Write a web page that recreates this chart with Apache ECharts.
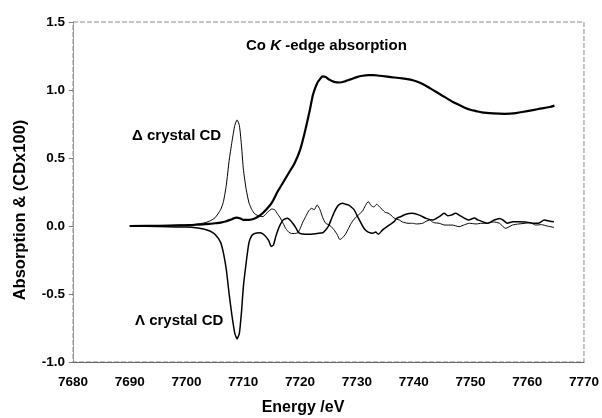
<!DOCTYPE html>
<html>
<head>
<meta charset="utf-8">
<script src="https://cdn.jsdelivr.net/npm/echarts@6/dist/echarts.min.js"></script>
<style>
html,body{margin:0;padding:0;background:#fff;}
#chart{width:602px;height:418px;}
</style>
</head>
<body>
<div id="chart"></div>
<script>
// X tick labels and Y tick labels
const xTicks = [7680, 7690, 7700, 7710, 7720, 7730, 7740, 7750, 7760, 7770];
const yTicks = [-1.0, -0.5, 0.0, 0.5, 1.0, 1.5];

// Co K-edge absorption (thick line)
const absE = [7690,7695,7700,7702,7704,7705,7706,7707,7708,7708.8,7709.5,7710,7711,7712,7713,7714,7715,7716,7717,7718,7719,7720,7721,7721.7,7722.3,7723,7723.5,7724,7724.5,7725,7726,7727,7728,7729,7730,7731,7732,7733,7734,7736,7738,7740,7741,7742,7743,7744,7745,7746,7747,7748,7749,7750,7751,7752,7754,7756,7757,7758,7760,7762,7764,7764.8];
const absV = [0,0.002,0.006,0.01,0.015,0.02,0.025,0.035,0.05,0.062,0.055,0.045,0.045,0.055,0.08,0.12,0.17,0.25,0.32,0.39,0.46,0.56,0.72,0.85,0.97,1.05,1.08,1.1,1.095,1.08,1.06,1.055,1.065,1.08,1.095,1.105,1.11,1.11,1.105,1.095,1.085,1.07,1.055,1.035,1.01,0.985,0.96,0.935,0.91,0.89,0.87,0.855,0.845,0.835,0.828,0.825,0.826,0.83,0.845,0.86,0.875,0.885];

// Delta crystal CD (x100)
const deltaE = [7690,7695,7700,7702,7703,7704,7705,7706,7706.5,7707,7707.5,7708,7708.5,7708.9,7709.3,7709.7,7710,7710.5,7711,7711.5,7712,7713,7713.5,7714,7714.5,7715,7715.5,7716,7716.5,7717,7717.5,7718,7718.5,7719,7719.6,7720,7720.5,7721,7721.5,7722,7722.5,7723,7723.5,7724,7724.5,7725,7725.5,7726,7726.5,7727,7727.5,7728,7728.5,7729,7729.5,7730,7730.5,7731,7731.5,7732,7732.5,7733,7733.5,7734,7734.5,7735,7735.5,7736,7736.5,7737,7737.5,7738,7739,7739.8,7740.5,7741.6,7742.2,7742.8,7743.5,7744.5,7745.5,7746.8,7748,7749,7749.8,7751,7752,7753,7754,7755.1,7756.2,7757.4,7758.5,7759.7,7760.5,7761.5,7762.5,7763.5,7764.7];
const deltaV = [0,0.003,0.008,0.015,0.022,0.035,0.06,0.12,0.18,0.3,0.48,0.62,0.74,0.78,0.74,0.58,0.42,0.27,0.17,0.12,0.09,0.07,0.07,0.09,0.11,0.125,0.12,0.09,0.06,0.02,-0.02,-0.045,-0.055,-0.055,-0.05,-0.02,0.03,0.07,0.11,0.13,0.12,0.155,0.12,0.06,0.02,0.01,-0.005,-0.03,-0.06,-0.1,-0.085,-0.06,-0.02,0.02,0.05,0.07,0.09,0.11,0.15,0.18,0.15,0.14,0.16,0.14,0.12,0.1,0.095,0.08,0.06,0.05,0.044,0.03,0.02,0.02,0.015,0.02,0.035,0.044,0.025,0.02,0.007,0.007,-0.005,0.01,0.02,0.015,0.02,0.02,0.03,0.02,-0.017,0.007,0.015,0.02,0.025,0.007,0.01,0.0,-0.01];

// Lambda crystal CD (x100)
const lambdaE = [7690,7695,7700,7702,7703,7704,7705,7706,7706.5,7707,7707.5,7708,7708.5,7708.9,7709.3,7709.7,7710,7710.5,7711,7711.5,7712,7712.9,7713.5,7714,7714.5,7714.9,7715.3,7715.7,7716.1,7716.5,7717,7717.8,7718.3,7718.7,7719.2,7719.6,7720,7721,7722,7723,7724,7724.5,7725,7725.5,7726,7726.5,7727,7727.5,7728,7728.5,7729,7729.5,7730,7730.5,7731,7731.5,7732,7732.8,7733.3,7733.8,7734.5,7735.7,7736.5,7737,7737.8,7738.5,7739.8,7741,7742.2,7743.4,7744.5,7745.4,7746,7746.6,7747.4,7748,7748.9,7749.7,7750.7,7751.3,7752.1,7753,7754.2,7755.1,7755.7,7756.5,7757.5,7758.6,7759.7,7760.9,7762,7763,7764,7764.7];
const lambdaV = [0,-0.003,-0.008,-0.015,-0.022,-0.035,-0.06,-0.12,-0.2,-0.32,-0.5,-0.66,-0.79,-0.83,-0.79,-0.62,-0.45,-0.27,-0.12,-0.07,-0.055,-0.05,-0.06,-0.08,-0.11,-0.15,-0.14,-0.08,-0.03,0.01,0.044,0.057,0.04,0.02,-0.01,-0.04,-0.055,-0.06,-0.06,-0.055,-0.05,-0.03,0.0,0.05,0.1,0.14,0.16,0.167,0.16,0.155,0.14,0.12,0.08,0.04,0.0,-0.03,-0.045,-0.054,-0.045,-0.06,-0.03,0.007,0.03,0.056,0.07,0.085,0.093,0.08,0.056,0.044,0.069,0.093,0.075,0.08,0.093,0.08,0.058,0.045,0.058,0.045,0.032,0.02,0.044,0.056,0.045,0.02,0.032,0.032,0.03,0.02,0.02,0.044,0.035,0.032];

const pairs = (xs, ys) => xs.map((x, i) => [x, ys[i]]);
const FONT = '"Liberation Sans", Arial, sans-serif';

const chart = echarts.init(document.getElementById('chart'), null, {renderer: 'canvas'});
chart.setOption({
  animation: false,
  backgroundColor: '#ffffff',
  grid: {
    left: 73, right: 17, top: 22, bottom: 56,
    show: true, borderColor: '#8a8a8a', borderWidth: 1, borderType: [5, 2]
  },
  xAxis: {
    type: 'value',
    min: xTicks[0], max: xTicks[xTicks.length - 1], interval: 10,
    axisLine: {show: true, onZero: false, lineStyle: {color: '#666', width: 1.2}},
    axisTick: {show: false},
    splitLine: {show: false},
    axisLabel: {
      color: '#000', fontFamily: FONT, fontWeight: 'bold', fontSize: 13.5, margin: 13,
      formatter: v => xTicks.includes(v) ? String(v) : ''
    }
  },
  yAxis: {
    type: 'value',
    min: yTicks[0], max: yTicks[yTicks.length - 1], interval: 0.5,
    axisLine: {show: true, onZero: false, lineStyle: {color: '#999', width: 1}},
    axisTick: {show: true, inside: false, length: 4, lineStyle: {color: '#777'}},
    splitLine: {show: false},
    axisLabel: {
      color: '#000', fontFamily: FONT, fontWeight: 'bold', fontSize: 13.5, margin: 8,
      formatter: v => v.toFixed(1)
    }
  },
  series: [
    {
      name: 'Co K-edge absorption', type: 'line', showSymbol: false, smooth: 0.3,
      data: pairs(absE, absV),
      lineStyle: {color: '#000', width: 2.2}, z: 3
    },
    {
      name: 'Δ crystal CD', type: 'line', showSymbol: false, smooth: 0.2,
      data: pairs(deltaE, deltaV),
      lineStyle: {color: '#000', width: 1}, z: 2
    },
    {
      name: 'Λ crystal CD', type: 'line', showSymbol: false, smooth: 0.2,
      data: pairs(lambdaE, lambdaV),
      lineStyle: {color: '#000', width: 1.5}, z: 2
    }
  ],
  graphic: [
    {
      type: 'text', left: 246, top: 38,
      style: {
        text: '{n|Co }{i|K}{n| -edge absorption}',
        rich: {
          n: {fontFamily: FONT, fontWeight: 'bold', fontSize: 15, fill: '#000'},
          i: {fontFamily: FONT, fontWeight: 'bold', fontStyle: 'italic', fontSize: 15, fill: '#000'}
        }
      }
    },
    {
      type: 'text', left: 132, top: 128,
      style: {text: 'Δ crystal CD', fontFamily: FONT, fontWeight: 'bold', fontSize: 15, fill: '#000'}
    },
    {
      type: 'text', left: 135, top: 313,
      style: {text: 'Λ crystal CD', fontFamily: FONT, fontWeight: 'bold', fontSize: 15, fill: '#000'}
    },
    {
      type: 'text', x: 303, y: 408,
      style: {text: 'Energy /eV', fontFamily: FONT, fontWeight: 'bold', fontSize: 16, fill: '#000', align: 'center', verticalAlign: 'middle'}
    },
    {
      type: 'text', x: 20, y: 210, rotation: Math.PI / 2,
      style: {text: 'Absorption & (CDx100)', fontFamily: FONT, fontWeight: 'bold', fontSize: 16.5, fill: '#000', align: 'center', verticalAlign: 'middle'}
    }
  ]
});
</script>
</body>
</html>
